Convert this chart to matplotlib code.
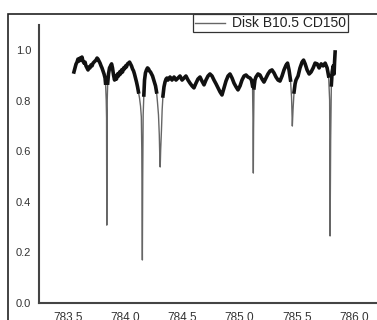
import numpy as np
import matplotlib
matplotlib.use("Agg")
import matplotlib.pyplot as plt
from matplotlib.patches import Rectangle

plt.rcParams['font.family'] = ['Liberation Sans', 'DejaVu Sans']

# wavelength (nm) and normalised flux of the disk spectrum
wavelength = [
    783.552, 783.561, 783.570, 783.579, 783.587, 783.596, 783.605, 783.614, 783.622, 783.631,
    783.640, 783.649, 783.657, 783.666, 783.675, 783.684, 783.692, 783.701, 783.710, 783.719,
    783.727, 783.736, 783.745, 783.754, 783.762, 783.771, 783.780, 783.789, 783.797, 783.806,
    783.815, 783.824, 783.828, 783.834, 783.837, 783.839, 783.841, 783.843, 783.847, 783.854,
    783.863, 783.872, 783.881, 783.889, 783.898, 783.907, 783.916, 783.924, 783.933, 783.942,
    783.951, 783.959, 783.968, 783.977, 783.986, 783.994, 784.003, 784.011, 784.020, 784.029,
    784.038, 784.046, 784.055, 784.064, 784.073, 784.081, 784.090, 784.099, 784.108, 784.116,
    784.125, 784.134, 784.141, 784.145, 784.150, 784.153, 784.157, 784.163, 784.169, 784.177,
    784.186, 784.195, 784.204, 784.212, 784.221, 784.230, 784.239, 784.247, 784.256, 784.265,
    784.274, 784.282, 784.291, 784.298, 784.302, 784.306, 784.310, 784.317, 784.323, 784.330,
    784.339, 784.348, 784.357, 784.365, 784.374, 784.392, 784.409, 784.427, 784.444, 784.462,
    784.479, 784.497, 784.514, 784.531, 784.549, 784.566, 784.584, 784.601, 784.619, 784.636,
    784.654, 784.671, 784.689, 784.706, 784.724, 784.741, 784.759, 784.776, 784.794, 784.811,
    784.829, 784.846, 784.864, 784.881, 784.899, 784.916, 784.934, 784.951, 784.969, 784.986,
    785.004, 785.021, 785.039, 785.056, 785.073, 785.091, 785.104, 785.113, 785.117, 785.120,
    785.122, 785.126, 785.134, 785.143, 785.161, 785.178, 785.196, 785.213, 785.231, 785.248,
    785.266, 785.283, 785.301, 785.318, 785.336, 785.353, 785.371, 785.388, 785.406, 785.419,
    785.432, 785.445, 785.454, 785.461, 785.467, 785.476, 785.485, 785.493, 785.511, 785.528,
    785.546, 785.559, 785.573, 785.590, 785.608, 785.625, 785.643, 785.660, 785.678, 785.695,
    785.713, 785.730, 785.748, 785.765, 785.778, 785.787, 785.791, 785.796, 785.802, 785.809,
    785.818, 785.826, 785.830, 785.835,
]
flux = [
    0.913, 0.929, 0.944, 0.952, 0.964, 0.956, 0.968, 0.960, 0.972, 0.956,
    0.948, 0.952, 0.937, 0.929, 0.921, 0.933, 0.929, 0.941, 0.937, 0.948,
    0.952, 0.956, 0.960, 0.968, 0.964, 0.956, 0.948, 0.937, 0.929, 0.917,
    0.905, 0.889, 0.869, 0.802, 0.731, 0.307, 0.565, 0.802, 0.869, 0.905,
    0.929, 0.937, 0.945, 0.929, 0.901, 0.881, 0.897, 0.885, 0.905, 0.897,
    0.913, 0.905, 0.921, 0.913, 0.929, 0.925, 0.937, 0.933, 0.945, 0.948,
    0.952, 0.945, 0.937, 0.925, 0.917, 0.905, 0.889, 0.873, 0.854, 0.834,
    0.810, 0.778, 0.735, 0.604, 0.169, 0.486, 0.743, 0.822, 0.881, 0.909,
    0.921, 0.929, 0.925, 0.917, 0.913, 0.905, 0.897, 0.885, 0.873, 0.858,
    0.834, 0.794, 0.743, 0.664, 0.584, 0.537, 0.604, 0.683, 0.763, 0.818,
    0.854, 0.873, 0.885, 0.889, 0.881, 0.893, 0.881, 0.893, 0.881, 0.889,
    0.897, 0.881, 0.889, 0.897, 0.881, 0.869, 0.858, 0.850, 0.869, 0.885,
    0.893, 0.877, 0.862, 0.881, 0.897, 0.905, 0.897, 0.881, 0.866, 0.850,
    0.834, 0.822, 0.850, 0.877, 0.897, 0.905, 0.889, 0.869, 0.854, 0.842,
    0.858, 0.881, 0.897, 0.901, 0.893, 0.889, 0.881, 0.858, 0.723, 0.513,
    0.683, 0.850, 0.881, 0.893, 0.905, 0.901, 0.885, 0.873, 0.889, 0.905,
    0.917, 0.921, 0.909, 0.893, 0.881, 0.877, 0.897, 0.921, 0.940, 0.948,
    0.921, 0.881, 0.814, 0.699, 0.763, 0.834, 0.866, 0.881, 0.897, 0.929,
    0.952, 0.960, 0.945, 0.921, 0.905, 0.913, 0.929, 0.948, 0.945, 0.929,
    0.945, 0.937, 0.948, 0.929, 0.897, 0.802, 0.264, 0.644, 0.862, 0.913,
    0.937, 0.905, 0.952, 0.992,
]
x_ticks = [783.5, 784.0, 784.5, 785.0, 785.5, 786.0]
y_ticks = [0.0, 0.2, 0.4, 0.6, 0.8, 1.0]
series_name = "Disk B10.5 CD150"

wl = np.array(wavelength)
fl = np.array(flux)
# noisy continuum drawn heavier than the narrow line cores
fl_cont = np.where(fl > 0.815, fl, np.nan)

W, H = 377, 320
fig = plt.figure(figsize=(W / 100, H / 100), dpi=100)
fig.patch.set_facecolor('white')

x0, x1 = 783.25, 786.25
left_px, right_px = 39.4, 382.6
top_px, bottom_px = 24.7, 302.7
ax = fig.add_axes([left_px / W, 1 - bottom_px / H,
                   (right_px - left_px) / W, (bottom_px - top_px) / H])
ax.set_xlim(x0, x1)
ax.set_ylim(0, 1.1)

line, = ax.plot(wl, fl, color='#666666', lw=1.0, label=series_name)
ax.plot(wl, fl_cont, color='#111111', lw=2.6, solid_joinstyle='round')

for side in ['top', 'right']:
    ax.spines[side].set_visible(False)
for side in ['left', 'bottom']:
    ax.spines[side].set_color('#444444')
    ax.spines[side].set_linewidth(1.5)

ax.set_xticks(x_ticks)
ax.set_yticks(y_ticks)
ax.set_xticklabels([f"{v:.1f}" for v in x_ticks])
ax.set_yticklabels([f"{v:.1f}" for v in y_ticks])
ax.tick_params(axis='x', length=0, pad=6.5, labelsize=8.5, labelcolor='#333333')
ax.tick_params(axis='y', length=0, pad=6, labelsize=8, labelcolor='#333333')

# chart area border
fig.add_artist(Rectangle((8.3 / W, -0.2), 1.5, 1.2 - 14.3 / H,
                         transform=fig.transFigure, fill=False,
                         edgecolor='#222222', lw=1.2))

leg = fig.legend(handles=[line], loc='upper left',
                 bbox_to_anchor=(192.7 / W, 1 - 14.3 / H),
                 fontsize=10, frameon=True, fancybox=False, framealpha=1,
                 edgecolor='#333333', borderpad=0.15, borderaxespad=0,
                 handlelength=2.2, handletextpad=0.45)
leg.get_frame().set_linewidth(0.9)
for t in leg.get_texts():
    t.set_color('#222222')

fig.savefig("out.png", dpi=100)
